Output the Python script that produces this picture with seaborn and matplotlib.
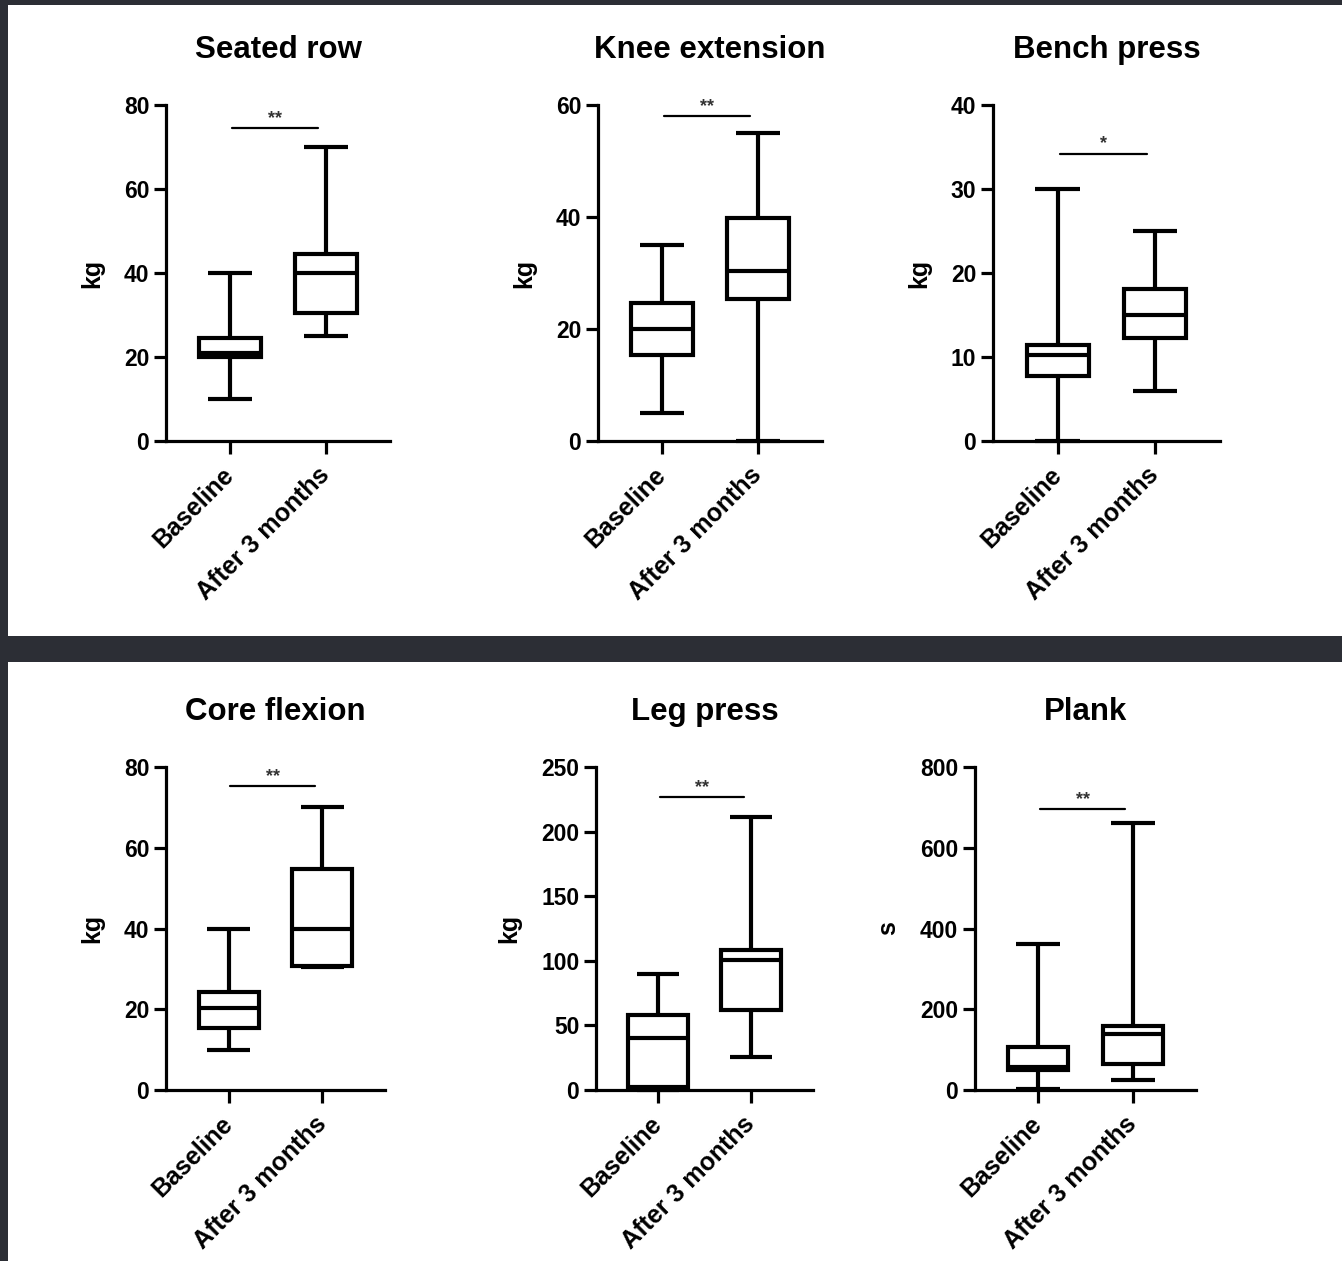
import numpy as np
import pandas as pd
import matplotlib
matplotlib.use("Agg")
import matplotlib.pyplot as plt
from matplotlib.patches import Rectangle
import seaborn as sns

# Exercises, units and axis ranges
exercises = ["Seated row", "Knee extension", "Bench press",
             "Core flexion", "Leg press", "Plank"]
units = ["kg", "kg", "kg", "kg", "kg", "s"]
y_max = [80, 60, 40, 80, 250, 800]
y_step = [20, 20, 10, 20, 50, 200]
groups = ["Baseline", "After 3 months"]

# five-number summaries: min, q1, median, q3, max
baseline_stats = [
    [10, 20, 21, 24.5, 40],
    [5, 15.4, 20, 24.6, 35],
    [0, 7.7, 10.2, 11.4, 30],
    [10, 15.3, 20.3, 24.3, 40],
    [0, 2, 40, 58, 90],
    [3, 50, 58, 106, 361],
]
after_stats = [
    [25, 30.5, 40, 44.5, 70],
    [0, 25.4, 30.4, 39.8, 55],
    [6, 12.3, 15, 18.1, 25],
    [30.5, 30.6, 40, 54.7, 70],
    [25.5, 62, 100.6, 108, 211],
    [24.6, 64, 139.6, 157.6, 661],
]
sig_labels = ["**", "**", "*", "**", "**", "**"]
sig_height = [74.5, 58, 34.2, 75.2, 226.8, 696]

# axes placement in figure fractions (left, bottom, width, height)
axes_pos = [
    (0.1237, 0.6503, 0.1669, 0.2665),
    (0.4456, 0.6503, 0.1669, 0.2665),
    (0.7399, 0.6503, 0.1690, 0.2665),
    (0.1237, 0.1356, 0.1632, 0.2561),
    (0.4441, 0.1356, 0.1617, 0.2561),
    (0.7265, 0.1356, 0.1647, 0.2561),
]

sns.set_style("ticks")
plt.rcParams["font.family"] = ["Liberation Sans", "DejaVu Sans"]
plt.rcParams["font.weight"] = "bold"
plt.rcParams["text.color"] = "black"
plt.rcParams["axes.labelcolor"] = "black"
plt.rcParams["xtick.color"] = "black"
plt.rcParams["ytick.color"] = "black"

fig = plt.figure(figsize=(13.42, 12.61), dpi=100, facecolor="#2c2e35")

# white panels on the dark background
fig.patches.append(Rectangle((0.006, 0.4956), 0.994, 0.5004, transform=fig.transFigure,
                             facecolor="white", edgecolor="none", zorder=-10))
fig.patches.append(Rectangle((0.006, 0.0), 0.994, 0.475, transform=fig.transFigure,
                             facecolor="white", edgecolor="none", zorder=-10))

for i, name in enumerate(exercises):
    ax = fig.add_axes(axes_pos[i])
    ax.set_facecolor("none")
    df = pd.DataFrame({
        "group": [groups[0]] * 5 + [groups[1]] * 5,
        "value": baseline_stats[i] + after_stats[i],
    })
    sns.boxplot(data=df, x="group", y="value", ax=ax, whis=(0, 100),
                width=0.64, color="white", linecolor="black", linewidth=3,
                showfliers=False, capwidths=0.46)
    for ln in ax.lines:
        ln.set_clip_on(False)
        ln.set_solid_capstyle("butt")

    ax.set_xlim(-0.667, 1.667)
    ax.set_ylim(0, y_max[i])
    ax.set_yticks(np.arange(0, y_max[i] + 1, y_step[i]))
    ax.set_xlabel("")
    ax.set_ylabel(units[i], fontsize=18, fontweight="bold", labelpad=14, color="black")
    ax.set_title(name, fontsize=22.5, fontweight="bold", pad=34, color="black")

    for side in ["top", "right"]:
        ax.spines[side].set_visible(False)
    for side in ["left", "bottom"]:
        ax.spines[side].set_linewidth(2.3)
        ax.spines[side].set_color("black")
    ax.tick_params(axis="both", length=9, width=2.3, color="black", direction="out")
    ax.tick_params(axis="y", labelsize=16.5, pad=3, labelcolor="black")
    ax.tick_params(axis="x", labelsize=18, pad=13, labelcolor="black")
    for lab in ax.get_yticklabels():
        lab.set_fontweight("bold")
    for lab in ax.get_xticklabels():
        lab.set_fontweight("bold")
        lab.set_rotation(45)
        lab.set_ha("right")
        lab.set_va("center")
        lab.set_rotation_mode("anchor")

    # significance bar
    ax.plot([0.02, 0.92], [sig_height[i]] * 2, color="black", lw=1.6, clip_on=False)
    ax.annotate(sig_labels[i], xy=(0.47, sig_height[i]), xytext=(0, 1),
                textcoords="offset points", ha="center", va="bottom",
                fontsize=13, color="#333333", annotation_clip=False)

fig.savefig("out.png", dpi=100, facecolor=fig.get_facecolor())
